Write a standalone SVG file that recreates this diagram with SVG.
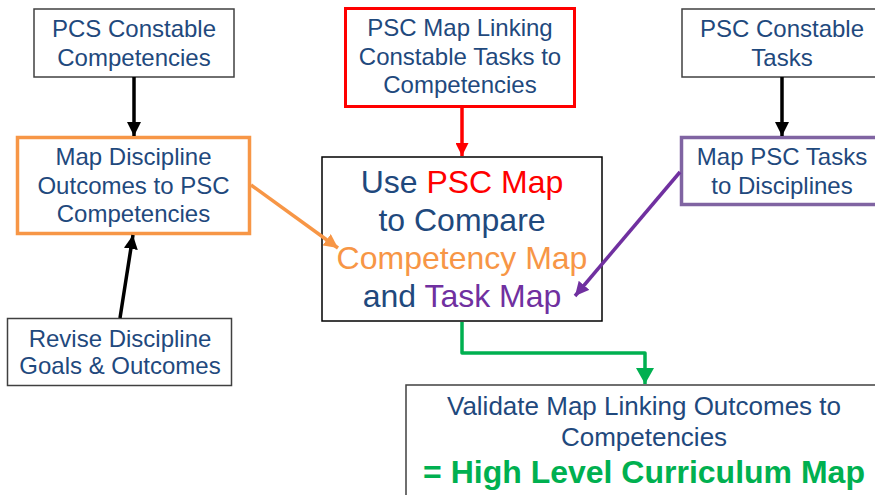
<svg xmlns="http://www.w3.org/2000/svg" width="875" height="495" viewBox="0 0 875 495">
<style>
text{font-family:"Liberation Sans",Arial,sans-serif;fill:#1F497D;text-anchor:middle}
.t24{font-size:24px}
.t26{font-size:26px}
.t32{font-size:32px}
.box{fill:#fff;stroke:#404040;stroke-width:1.5}
.c{fill:none;stroke-width:3.5}
</style>
<defs>
<marker id="ah-black" markerUnits="userSpaceOnUse" markerWidth="14" markerHeight="14" viewBox="0 0 12 12" refX="12" refY="6" orient="auto"><path d="M0,0 L12,6 L0,12 z" fill="#000"/></marker>
<marker id="ah-red" markerUnits="userSpaceOnUse" markerWidth="13" markerHeight="13" viewBox="0 0 12 12" refX="12" refY="6" orient="auto"><path d="M0,0 L12,6 L0,12 z" fill="#FF0000"/></marker>
<marker id="ah-orange" markerUnits="userSpaceOnUse" markerWidth="14" markerHeight="14" viewBox="0 0 12 12" refX="12" refY="6" orient="auto"><path d="M0,0 L12,6 L0,12 z" fill="#F79646"/></marker>
<marker id="ah-purple" markerUnits="userSpaceOnUse" markerWidth="14" markerHeight="14" viewBox="0 0 12 12" refX="12" refY="6" orient="auto"><path d="M0,0 L12,6 L0,12 z" fill="#7030A0"/></marker>
<marker id="ah-green" markerUnits="userSpaceOnUse" markerWidth="18" markerHeight="18" viewBox="0 0 16 18" refX="16" refY="9" orient="auto"><path d="M0,0 L16,9 L0,18 z" fill="#00B050"/></marker>
</defs>

<g id="pcs-competencies">
<rect class="box" x="34" y="9" width="200" height="68"/>
<text class="t24" x="134" y="37">PCS Constable</text>
<text class="t24" x="134" y="66">Competencies</text>
</g>

<g id="psc-map-linking">
<rect x="345.5" y="8.5" width="229" height="98" fill="#fff" stroke="#FF0000" stroke-width="3"/>
<text class="t24" x="460" y="36">PSC Map Linking</text>
<text class="t24" x="460" y="65">Constable Tasks to</text>
<text class="t24" x="460" y="93">Competencies</text>
</g>

<g id="psc-tasks">
<rect class="box" x="682" y="9" width="200" height="68"/>
<text class="t24" x="782" y="37">PSC Constable</text>
<text class="t24" x="782" y="66">Tasks</text>
</g>

<g id="map-discipline">
<rect x="17.5" y="137.5" width="232" height="96" fill="#fff" stroke="#F79646" stroke-width="3.5"/>
<text class="t24" x="133.5" y="165">Map Discipline</text>
<text class="t24" x="133.5" y="193.5">Outcomes to PSC</text>
<text class="t24" x="133.5" y="222">Competencies</text>
</g>

<g id="map-tasks">
<rect x="681.5" y="137.5" width="200" height="67" fill="#fff" stroke="#8064A2" stroke-width="3.5"/>
<text class="t24" x="782" y="165">Map PSC Tasks</text>
<text class="t24" x="782" y="193.5">to Disciplines</text>
</g>

<g id="compare">
<rect x="322" y="157" width="280" height="164" fill="#fff" stroke="#000" stroke-width="1.5"/>
<text class="t32" x="462" y="193">Use <tspan fill="#FF0000" style="fill:#FF0000">PSC Map</tspan></text>
<text class="t32" x="462" y="231">to Compare</text>
<text class="t32" x="462" y="269" style="fill:#F79646">Competency Map</text>
<text class="t32" x="462" y="307">and <tspan style="fill:#7030A0">Task Map</tspan></text>
</g>

<g id="revise">
<rect class="box" x="7.5" y="318.5" width="224" height="67"/>
<text class="t24" x="120" y="347">Revise Discipline</text>
<text class="t24" x="120" y="374">Goals &amp; Outcomes</text>
</g>

<g id="validate">
<rect class="box" x="406" y="385" width="480" height="120"/>
<text class="t26" x="644" y="415">Validate Map Linking Outcomes to</text>
<text class="t26" x="644" y="446">Competencies</text>
<text x="644" y="483" style="fill:#00B050;font-size:32px;font-weight:bold">= High Level Curriculum Map</text>
</g>

<g id="connectors">
<line class="c" x1="134" y1="77" x2="134" y2="136" stroke="#000" marker-end="url(#ah-black)"/>
<line class="c" x1="782" y1="77" x2="782" y2="136" stroke="#000" marker-end="url(#ah-black)"/>
<line class="c" x1="120" y1="318" x2="133" y2="235" stroke="#000" marker-end="url(#ah-black)"/>
<line class="c" x1="462" y1="107" x2="462" y2="156" stroke="#FF0000" marker-end="url(#ah-red)"/>
<line class="c" x1="251" y1="185" x2="338" y2="248" stroke="#F79646" stroke-width="3" marker-end="url(#ah-orange)"/>
<line class="c" x1="680" y1="172" x2="575" y2="296" stroke="#7030A0" stroke-width="3" marker-end="url(#ah-purple)"/>
<polyline class="c" points="462,322 462,353 645,353 645,384" stroke="#00B050" stroke-width="4.5" stroke-linejoin="round" marker-end="url(#ah-green)"/>
</g>
</svg>
